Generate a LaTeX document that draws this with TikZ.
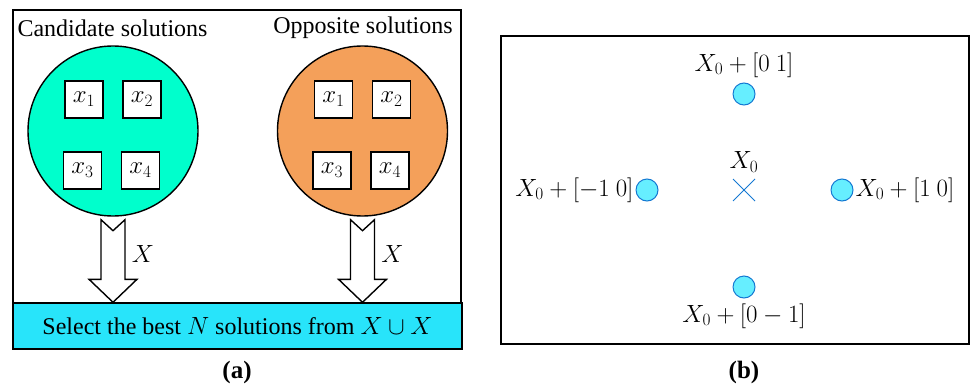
\documentclass[tikz,border=0pt]{standalone}
\usepackage{amsmath}
\usepackage{fontspec}
\setmainfont{Liberation Serif}
\usetikzlibrary{positioning, calc}
\definecolor{candcol}{RGB}{0,255,204}
\definecolor{oppcol}{RGB}{244,160,90}
\definecolor{barcol}{RGB}{40,228,250}
\definecolor{dotfill}{RGB}{102,238,255}
\definecolor{dotline}{RGB}{20,120,210}
\begin{document}
\begin{tikzpicture}[x=1pt, y=-1pt, font=\fontsize{24}{28}\selectfont, line width=1.4pt,
  pool/.style={circle, draw, minimum size=170pt, inner sep=0pt},
  solbox/.style={draw, fill=white, minimum width=38pt, minimum height=37pt, inner sep=0pt, font=\fontsize{27}{30}\selectfont},
  fatarrow/.style={draw, fill=white, line join=miter},
  pt/.style={circle, draw=dotline, fill=dotfill, line width=1pt, minimum size=22pt, inner sep=0pt}]
\useasboundingbox (0,0) rectangle (973,385);

% (a) opposition-based population
\draw (13,10) rectangle (461,303);
\node[draw, fill=barcol, minimum width=449pt, minimum height=46pt, inner sep=0pt] (sel) at (237.5,326) {Select the best $N$ solutions from $X \cup X$};
\node[pool, fill=candcol] (cand) at (113,131) {};
\node[pool, fill=oppcol] (opp) at (362.5,131) {};
\node (tcand) at (112.5,28) {Candidate solutions};
\node (topp) at (363,28) {Opposite solutions};
\foreach \c in {cand, opp} {
  \node[solbox] (\c1) at ($(\c)+(-29,-31.5)$) {$x_1$};
  \node[solbox] (\c2) at ($(\c)+(29,-31.5)$) {$x_2$};
  \node[solbox] (\c3) at ($(\c)+(-30.5,39.5)$) {$x_3$};
  \node[solbox] (\c4) at ($(\c)+(27.5,39.5)$) {$x_4$};
  \coordinate (\c top) at ($(\c.south)+(0,3)$);
  \coordinate (\c tip) at (sel.north -| \c top);
  \draw[fatarrow] ($(\c top)+(-12,0)$) -- ($(\c top)+(0,11)$) -- ($(\c top)+(12,0)$)
    -- ($(\c tip)+(12,-23)$) -- ($(\c tip)+(24,-23)$) -- (\c tip)
    -- ($(\c tip)+(-24,-23)$) -- ($(\c tip)+(-12,-23)$) -- cycle;
  \node (\c x) at ($(\c top)!0.42!(\c tip)+(30,0)$) {$X$};
}
\node[font=\fontsize{25}{29}\selectfont\bfseries] (capa) at (237,372) {(a)};

% (b) neighbourhood of X0
\draw (501,36) rectangle (969,344);
\coordinate (x0) at (744,190);
\draw[dotline, line width=1pt] ($(x0)+(-11,-11)$) -- ($(x0)+(11,11)$) ($(x0)+(-11,11)$) -- ($(x0)+(11,-11)$);
\node (lx0) at (744,162) {$X_0$};
\node[pt] (up) at (744,94) {};
\node[pt] (left) at (647,190) {};
\node[pt] (right) at (842,190) {};
\node[pt] (down) at (744,287) {};
\node[above=1pt of up] (lup) {$X_0+[0\ 1]$};
\node[left=-2pt of left] (lleft) {$X_0+[-1\ 0]$};
\node[right=-2pt of right] (lright) {$X_0+[1\ 0]$};
\node[below=1pt of down] (ldown) {$X_0+[0-1]$};
\node[font=\fontsize{25}{29}\selectfont\bfseries] (capb) at (744,372) {(b)};
\end{tikzpicture}
\end{document}
